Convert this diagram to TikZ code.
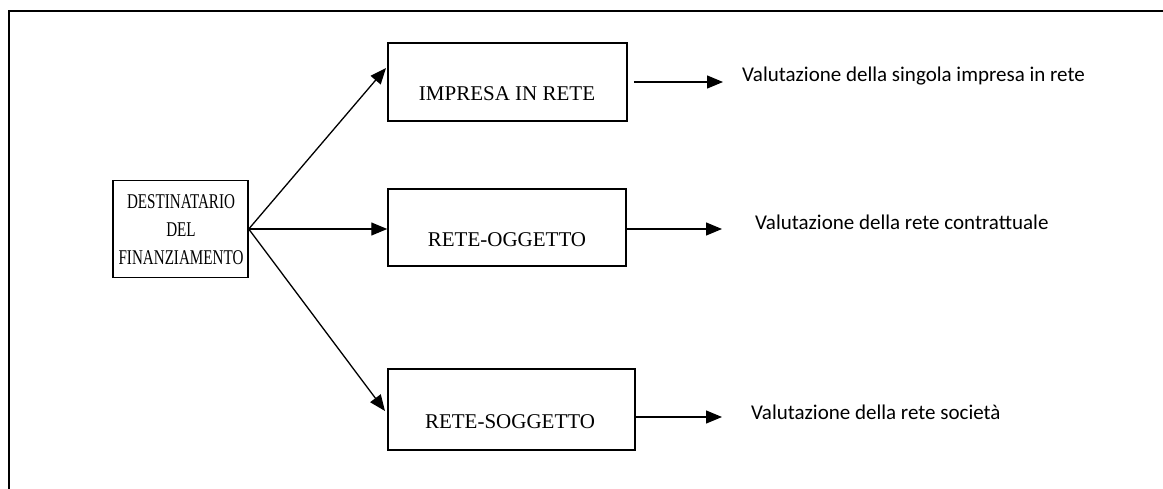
\documentclass[tikz,border=0pt]{standalone}
\usepackage{fontspec}
\setmainfont{Liberation Serif}
\newfontfamily\calfont{Carlito}
\usetikzlibrary{arrows.meta}
\tikzset{
  boxnode/.style={draw, line width=1.5pt, rectangle, inner sep=0pt},
  boxtext/.style={font=\fontsize{21}{27}\selectfont, align=center, inner sep=0pt},
  evaltext/.style={font=\calfont\fontsize{21}{25}\selectfont, anchor=west, inner sep=0pt},
  conn/.style={line width=1.3pt, -{Triangle[length=16pt,width=13pt]}}
}
\begin{document}
\begin{tikzpicture}[x=1pt,y=-1pt]
\useasboundingbox (0,0) rectangle (1163,488);
\begin{scope}
\clip (0,0) rectangle (1163,488);
\draw[line width=2pt] (9,500) -- (9,11) -- (1175,11);
\end{scope}
% boxes
\node[boxnode, minimum width=135pt, minimum height=97pt] (dest) at (180.5,229) {};
\node[boxtext, font=\fontsize{21}{28}\selectfont] (desttxt) at (181,230)
  {\scalebox{0.72}[1]{DESTINATARIO}\\\scalebox{0.72}[1]{DEL}\\\scalebox{0.72}[1]{FINANZIAMENTO}};
\node[boxnode, minimum width=239pt, minimum height=78pt] (imp) at (507.5,82) {};
\node[boxtext] (imptxt) at (507,94) {IMPRESA IN RETE};
\node[boxnode, minimum width=238pt, minimum height=77pt] (ogg) at (507,227.5) {};
\node[boxtext] (oggtxt) at (507,240) {RETE-OGGETTO};
\node[boxnode, minimum width=247pt, minimum height=81pt] (sog) at (511.5,409.5) {};
\node[boxtext] (sogtxt) at (510,422) {RETE-SOGGETTO};
% evaluation texts
\node[evaltext] (v1) at (742,76) {Valutazione della singola impresa in rete};
\node[evaltext] (v2) at (755,222) {Valutazione della rete contrattuale};
\node[evaltext] (v3) at (751,412) {Valutazione della rete società};
% hub and arrow end points
\coordinate (hub) at (dest.east);
\coordinate (t1) at (386,68);
\coordinate (t3) at (385,411);
\coordinate (e1) at (723,82);
\coordinate (e2) at (722,229);
\coordinate (e3) at (722,417);
\draw[conn] (hub) -- (t1);
\draw[conn] (hub) -- (ogg.west |- hub);
\draw[conn] (hub) -- (t3);
\draw[conn] (imp.east) ++(6,0) coordinate (s1) -- (e1);
\draw[conn] (ogg.east |- e2) coordinate (s2) -- (e2);
\draw[conn] (sog.east |- e3) coordinate (s3) -- (e3);
\end{tikzpicture}
\end{document}
